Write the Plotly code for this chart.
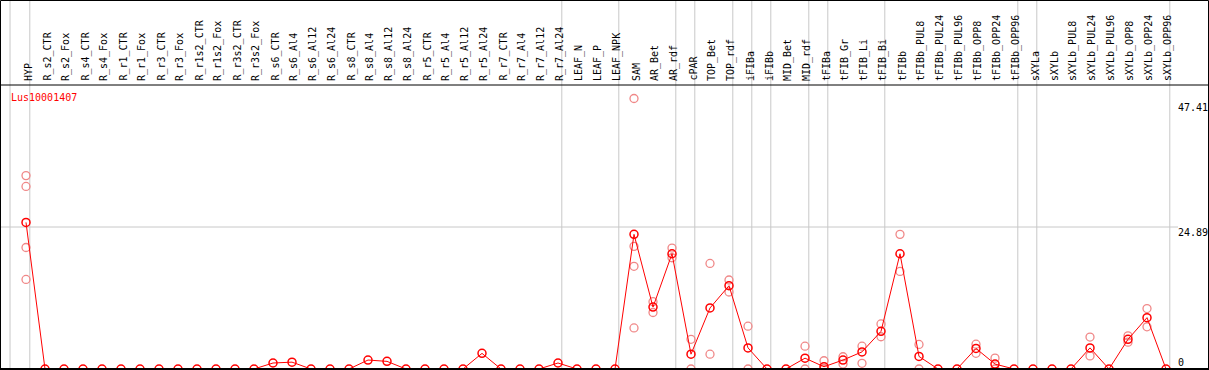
import plotly.graph_objects as go

categories = ["HYP", "R_s2_CTR", "R_s2_Fox", "R_s4_CTR", "R_s4_Fox", "R_r1_CTR", "R_r1_Fox",
              "R_r3_CTR", "R_r3_Fox", "R_r1s2_CTR", "R_r1s2_Fox", "R_r3s2_CTR", "R_r3s2_Fox",
              "R_s6_CTR", "R_s6_Al4", "R_s6_Al12", "R_s6_Al24", "R_s8_CTR", "R_s8_Al4",
              "R_s8_Al12", "R_s8_Al24", "R_r5_CTR", "R_r5_Al4", "R_r5_Al12", "R_r5_Al24",
              "R_r7_CTR", "R_r7_Al4", "R_r7_Al12", "R_r7_Al24", "LEAF_N", "LEAF_P", "LEAF_NPK",
              "SAM", "AR_Bet", "AR_rdf", "cPAR", "TOP_Bet", "TOP_rdf", "iFIBa", "iFIBb",
              "MID_Bet", "MID_rdf", "tFIBa", "tFIB_Gr", "tFIB_Li", "tFIB_Bi", "tFIBb",
              "tFIBb_PUL8", "tFIBb_PUL24", "tFIBb_PUL96", "tFIBb_OPP8", "tFIBb_OPP24",
              "tFIBb_OPP96", "sXYLa", "sXYLb", "sXYLb_PUL8", "sXYLb_PUL24", "sXYLb_PUL96",
              "sXYLb_OPP8", "sXYLb_OPP24", "sXYLb_OPP96"]

mean_values = [25.7, 0, 0, 0, 0, 0, 0, 0, 0, 0, 0, 0, 0,
               1.05, 1.2, 0, 0, 0, 1.57, 1.34, 0, 0, 0, 0, 2.74,
               0, 0, 0, 1.05, 0, 0, 0,
               23.6, 10.85, 20.2, 2.6, 10.7, 14.6, 3.7, 0, 0, 1.9,
               0.4, 1.57, 3.0, 6.6, 20.2, 2.2, 0, 0, 3.6, 0.87, 0,
               0, 0, 0, 3.7, 0, 5.2, 9.0, 0]

N = None
rep_a = [33.9] + [N] * 31 + [47.41, 11.8, 21.2, 5.2, 18.5, 15.6, 7.5, N, N, 4.0,
                             1.45, 2.15, 4.0, 7.9, 23.6, 4.3, N, N, 4.35, 1.9, N,
                             N, N, N, 5.6, N, 5.8, 10.6, N]
rep_b = [32.0] + [N] * 31 + [21.5, 9.9, 19.5, 0, 2.6, 13.5, 0, N, N, 0,
                             0, 0.87, 1.0, 5.65, 17.1, 0, N, N, 2.75, 0, N,
                             N, N, N, 2.3, N, 4.7, 7.4, N]
rep_c = [21.3] + [N] * 31 + [18.0] + [N] * 28
rep_d = [15.7] + [N] * 31 + [7.2] + [N] * 28

group_lines = [-0.84, 0.2, 28.2, 31.2, 34.2, 35.2, 37.2, 38.2, 39.2, 41.2, 42.2,
               45.2, 52.2, 53.2, 60.2]

y_max = 47.41
y_top = y_max * 1.05
y_mid = y_top / 2

W, H = 1209, 370
ML, MR, MT, MB = 0, 0, 85, 1
PW, PH = W - ML - MR, H - MT - MB
X0_PX, DX = 26, 19
x_range = [(-X0_PX) / DX, (PW - X0_PX) / DX]

xs = list(range(len(categories)))
font_mono = "DejaVu Sans Mono"

fig = go.Figure()

rep_x, rep_y = [], []
for reps in (rep_a, rep_b, rep_c, rep_d):
    for i, v in enumerate(reps):
        if v is not None:
            rep_x.append(i)
            rep_y.append(v)

fig.add_trace(go.Scatter(
    x=rep_x, y=rep_y, mode="markers",
    marker=dict(symbol="circle-open", size=8, color="#f08888", line=dict(width=1.3)),
    cliponaxis=False, showlegend=False, hoverinfo="skip"))

fig.add_trace(go.Scatter(
    x=xs, y=mean_values, mode="lines+markers",
    line=dict(color="#ff0000", width=1),
    marker=dict(symbol="circle-open", size=8, color="#ff0000", line=dict(width=1.5)),
    cliponaxis=False, showlegend=False))

shapes = []
top_paper = 1 + MT / PH
for gx in group_lines:
    shapes.append(dict(type="line", xref="x", yref="paper", x0=gx, x1=gx,
                       y0=-MB / PH, y1=top_paper, line=dict(color="#c8c8c8", width=1),
                       layer="below"))
shapes.append(dict(type="line", xref="paper", yref="y", x0=0, x1=1178 / PW,
                   y0=y_mid, y1=y_mid, line=dict(color="#c8c8c8", width=1), layer="below"))
# frame
shapes.append(dict(type="line", xref="paper", yref="paper", x0=0, x1=1, y0=1, y1=1,
                   line=dict(color="black", width=1)))
shapes.append(dict(type="line", xref="paper", yref="paper", x0=0, x1=1, y0=0, y1=0,
                   line=dict(color="black", width=2)))
shapes.append(dict(type="rect", xref="paper", yref="paper", x0=0.5 / PW, x1=1 - 0.5 / PW,
                   y0=0, y1=top_paper - 0.5 / PH, line=dict(color="black", width=1)))

annotations = []
for i, c in enumerate(categories):
    annotations.append(dict(x=i, y=1 + 2 / PH, xref="x", yref="paper", text=c,
                            textangle=-90, showarrow=False, xanchor="center", xshift=2,
                            yanchor="bottom", font=dict(family=font_mono, size=10, color="black")))

annotations.append(dict(x=9 / PW, y=(H - MB - 97) / PH, xref="paper", yref="paper",
                        text="Lus10001407", showarrow=False, xanchor="left", yanchor="middle",
                        font=dict(family=font_mono, size=10, color="#ff0000")))

tick_text = [f"{y_max:.2f}", f"{y_mid:.2f}", "0"]
tick_px = [107, 232, 362]
for t, py in zip(tick_text, tick_px):
    annotations.append(dict(x=1176 / PW, y=(H - MB - py) / PH, xref="paper", yref="paper",
                            text=t, showarrow=False, xanchor="left", yanchor="middle",
                            font=dict(family=font_mono, size=10, color="black")))

fig.update_layout(
    width=W, height=H, margin=dict(l=ML, r=MR, t=MT, b=MB, pad=0),
    plot_bgcolor="white", paper_bgcolor="white",
    xaxis=dict(range=x_range, visible=False, fixedrange=True),
    yaxis=dict(range=[0, y_top], visible=False, fixedrange=True),
    shapes=shapes, annotations=annotations, showlegend=False)

fig.write_html("out.html", post_script="document.body.style.margin='0';",
               config={"displayModeBar": False})
